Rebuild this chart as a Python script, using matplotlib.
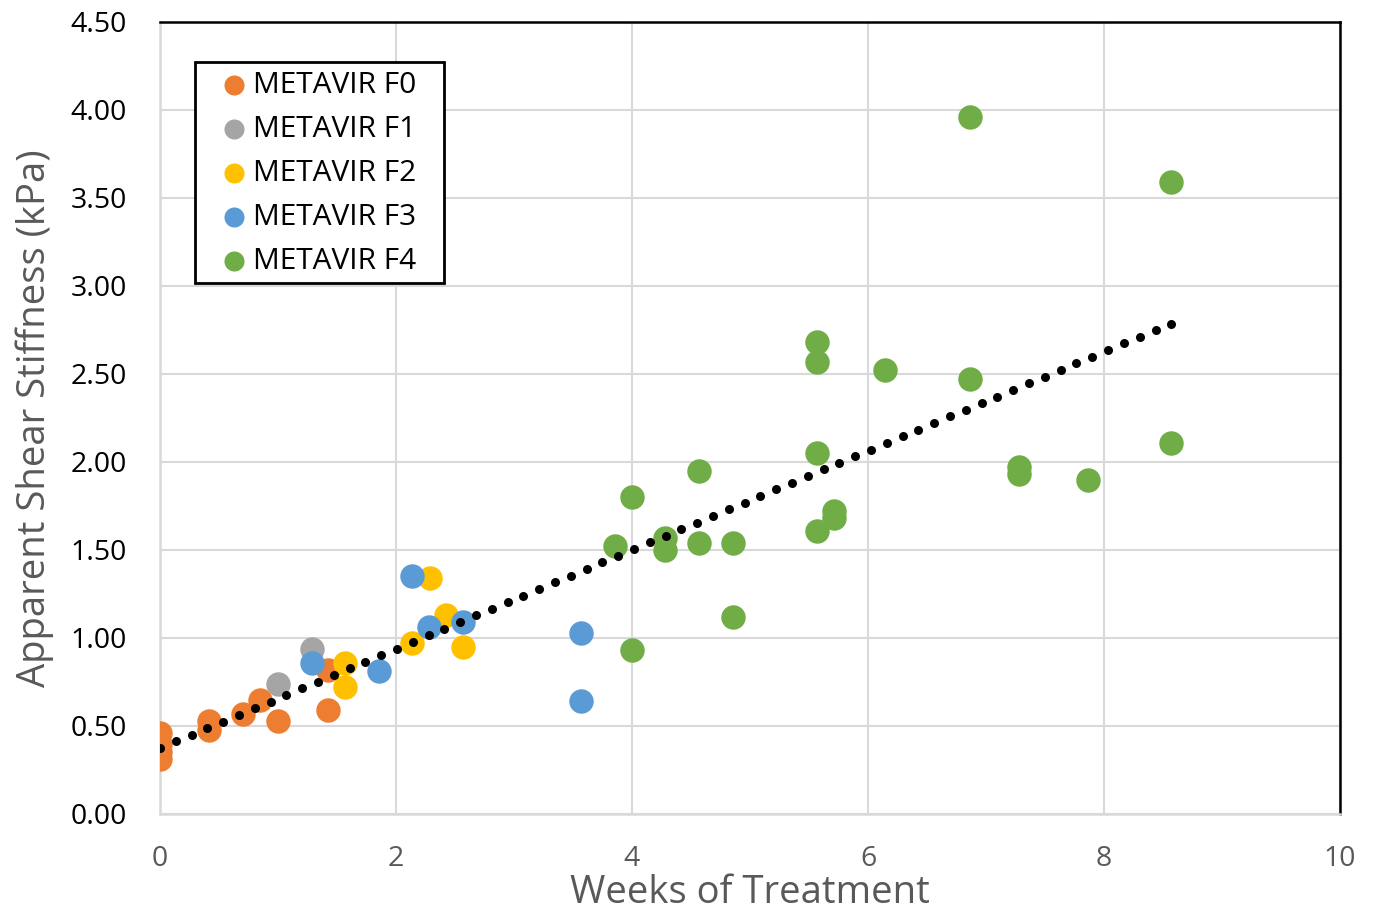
import numpy as np
import matplotlib.pyplot as plt
from matplotlib.patches import Rectangle

plt.rcParams['font.family'] = ['Open Sans', 'DejaVu Sans']

# weeks of treatment / apparent shear stiffness (kPa), per METAVIR stage
f0_x = [0, 0, 0, 0, 0.42, 0.42, 0.70, 0.85, 1.00, 1.42, 1.42]
f0_y = [0.46, 0.40, 0.35, 0.31, 0.53, 0.48, 0.57, 0.65, 0.53, 0.82, 0.59]
f1_x = [1.00, 1.29]
f1_y = [0.74, 0.94]
f2_x = [1.57, 1.57, 2.29, 2.14, 2.42, 2.57]
f2_y = [0.86, 0.72, 1.34, 0.97, 1.13, 0.95]
f3_x = [1.29, 1.86, 2.14, 2.28, 2.57, 3.57, 3.57]
f3_y = [0.86, 0.81, 1.35, 1.06, 1.09, 1.03, 0.64]
f4_x = [4.00, 3.86, 4.00, 4.28, 4.28, 4.57, 4.57, 4.86, 4.86, 5.57, 5.57,
        5.71, 5.71, 5.57, 5.57, 6.14, 6.86, 6.86, 7.28, 7.28, 7.86, 8.57, 8.57]
f4_y = [0.93, 1.52, 1.80, 1.57, 1.50, 1.95, 1.54, 1.54, 1.12, 2.05, 1.61,
        1.72, 1.68, 2.68, 2.57, 2.52, 2.47, 3.96, 1.97, 1.93, 1.90, 2.11, 3.59]

series = [
    ('METAVIR F0', f0_x, f0_y, '#ED7D31'),
    ('METAVIR F1', f1_x, f1_y, '#A5A5A5'),
    ('METAVIR F2', f2_x, f2_y, '#FFC000'),
    ('METAVIR F3', f3_x, f3_y, '#5B9BD5'),
    ('METAVIR F4', f4_x, f4_y, '#70AD47'),
]

fig = plt.figure(figsize=(13.74, 9.15), dpi=100)
ax = fig.add_axes([0.1164, 0.1104, 0.8589, 0.8656])

for label, xs, ys, color in series:
    ax.scatter(xs, ys, s=310, color=color, label=label, zorder=3, linewidths=0)

# linear trendline over all points, drawn as round dots like Excel's
all_x = np.concatenate([s[1] for s in series])
all_y = np.concatenate([s[2] for s in series])
slope, intercept = np.polyfit(all_x, all_y, 1)
tx = np.linspace(0, all_x.max(), 65)
ax.plot(tx, slope * tx + intercept, 'o', color='black', ms=6.5, mew=0, zorder=4)

ax.set_xlim(0, 10)
ax.set_ylim(0, 4.5)
ax.set_xticks(np.arange(0, 11, 2))
ax.set_yticks(np.arange(0, 4.51, 0.5))
ax.set_yticklabels([f'{v:.2f}' for v in np.arange(0, 4.51, 0.5)])
ax.grid(True, color='#d9d9d9', lw=1.5, zorder=0)
ax.set_axisbelow(True)
ax.tick_params(length=0, labelsize=20.5)
ax.tick_params(axis='y', pad=24, colors='black')
ax.tick_params(axis='x', pad=22, colors='#595959')
for side in ['top', 'right']:
    ax.spines[side].set_color('black')
    ax.spines[side].set_linewidth(1.8)
for side in ['left', 'bottom']:
    ax.spines[side].set_color('#d9d9d9')
    ax.spines[side].set_linewidth(1.8)

ax.set_xlabel('Weeks of Treatment', fontsize=27.5, color='#595959', labelpad=1)
ax.set_ylabel('Apparent Shear Stiffness (kPa)', fontsize=27.5, color='#595959', labelpad=12)

# legend box drawn separately so it can be wider than the entries
ax.add_patch(Rectangle((0.0297, 0.6705), 0.211, 0.279, transform=ax.transAxes,
                       facecolor='white', edgecolor='black', lw=2, zorder=5))
leg = ax.legend(loc='upper left', bbox_to_anchor=(0.029, 0.952), fontsize=21.5,
                frameon=False, markerscale=0.82,
                handletextpad=-0.3, borderpad=0.38, labelspacing=0.5, handlelength=1.9,
                borderaxespad=0)
leg.set_zorder(6)

fig.savefig('out.png', dpi=100)
